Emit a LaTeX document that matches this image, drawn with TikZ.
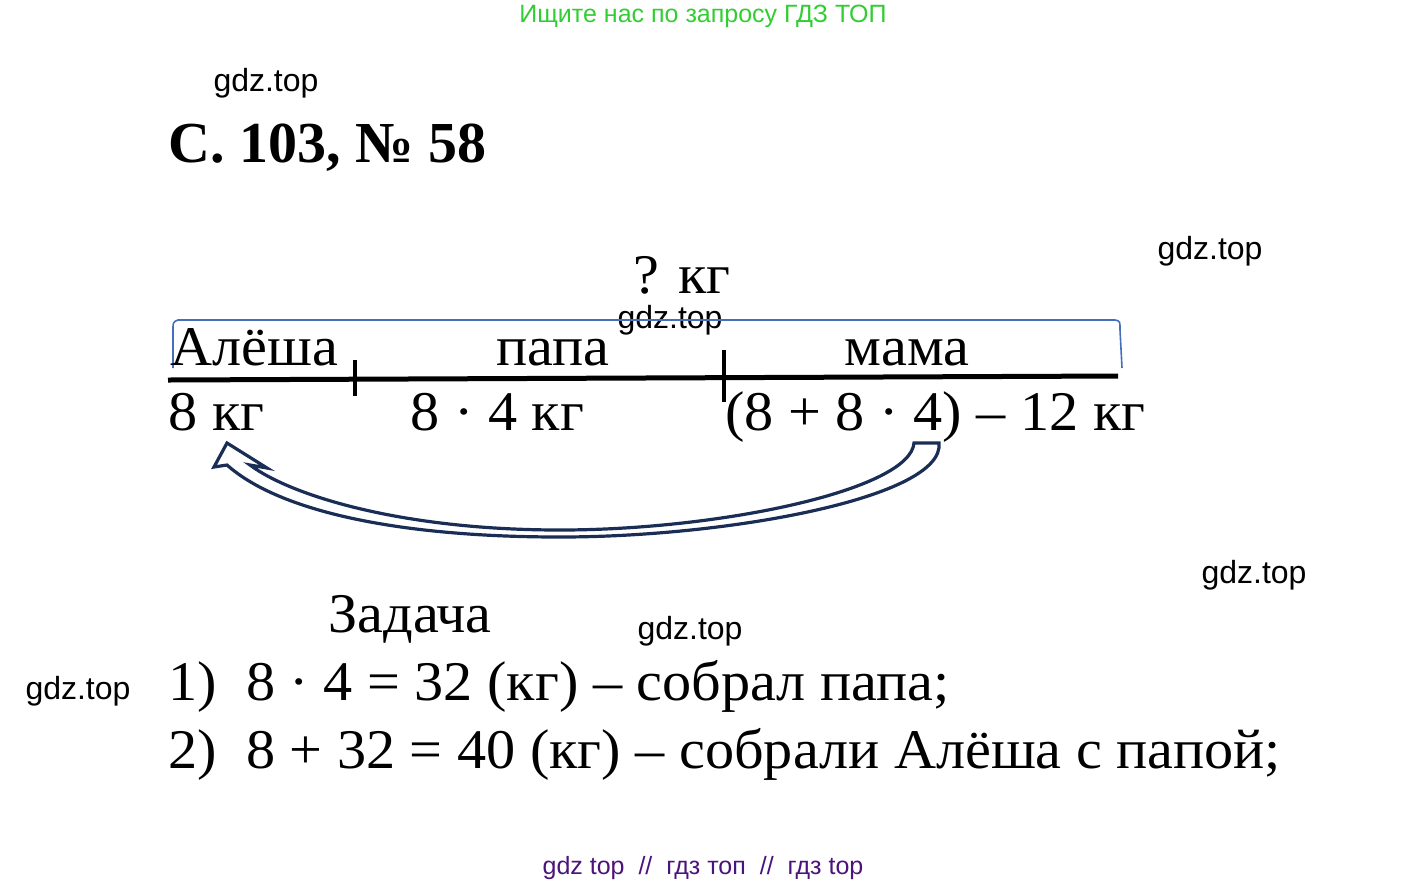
\documentclass[tikz,border=0pt]{standalone}
\usepackage{fontspec}
\setmainfont{Liberation Serif}
\newfontfamily\wmfont{Liberation Sans}
\newfontfamily\bigfont[FakeStretch=1.04]{Liberation Serif}
\definecolor{adgreen}{RGB}{50,205,50}
\definecolor{adpurple}{RGB}{75,20,125}
\definecolor{bracketblue}{RGB}{70,110,185}
\definecolor{arrownavy}{RGB}{25,45,85}
\tikzset{
  wm/.style={font=\wmfont\fontsize{16}{18}\selectfont, text=black, inner sep=0pt},
  big/.style={font=\bigfont\fontsize{28}{31}\selectfont, inner sep=0pt},
  axis/.style={line width=2.5pt},
  tick/.style={line width=2pt},
}
\begin{document}
\begin{tikzpicture}[x=0.5pt, y=-0.5pt]
\useasboundingbox (0,0) rectangle (1407,885);

\node[font=\wmfont\fontsize{12.5}{14}\selectfont, text=adgreen, anchor=base, inner sep=0pt] (ad top) at (703,22) {Ищите нас по запросу ГДЗ ТОП};

\foreach \x/\y [count=\i] in {266/83, 1210/251, 670/320, 1254/575, 690/631, 78/691} {
  \node[wm] (gdz \i) at (\x,\y) {gdz.top};
}

\node[font=\bfseries\fontsize{29}{32}\selectfont, anchor=base west, inner sep=0pt] (title) at (168,162) {С. 103, № 58};

% bracket above the line
\draw[bracketblue, line width=0.8pt] (173,368) -- (173,330) .. controls (173,322) .. (178,320) -- (1115,320) .. controls (1120,321) .. (1120,330) -- (1122,368);
\node[big, anchor=base] (total) at (682,293) {? кг};

% the line and its ticks
\coordinate (line start) at (168,380);
\coordinate (line end) at (1118,376);
\draw[axis] (line start) -- (line end);
\foreach \x/\a/\b [count=\i] in {355/360/396, 724/350/402} {
  \coordinate (tick top \i) at (\x,\a);
  \coordinate (tick bottom \i) at (\x,\b);
  \draw[tick] (tick top \i) -- (tick bottom \i);
}

\node[big, anchor=base west] (alesha) at (170,365) {Алёша};
\node[big, anchor=base] (papa) at (553,365) {папа};
\node[big, anchor=base] (mama) at (907,365) {мама};
\node[big, anchor=base west] (alesha kg) at (168,430) {8 кг};
\node[big, anchor=base west] (papa kg) at (410,430) {8 · 4 кг};
\node[big, anchor=base west] (mama kg) at (725,430) {(8 + 8 · 4) – 12 кг};

% hollow arrow from mama to Alesha
\draw[arrownavy, line width=1.6pt, line join=miter]
  (914,443) .. controls (910,490) and (720,530) .. (560,530)
  .. controls (400,530) and (290,495) .. (250,465)
  -- (267,468) -- (227,443) -- (214,467) -- (227,465)
  .. controls (280,512) and (400,537) .. (560,537)
  .. controls (730,537) and (945,497) .. (939,443) -- cycle;

\node[big, anchor=base west] (task) at (328,632) {Задача};
\node[big, anchor=base west] (step one) at (168,700) {1)\ \ 8 · 4 = 32 (кг) – собрал папа;};
\node[big, anchor=base west] (step two) at (168,768) {2)\ \ 8 + 32 = 40 (кг) – собрали Алёша с папой;};

\node[font=\wmfont\fontsize{12.5}{14}\selectfont, text=adpurple, anchor=base, inner sep=0pt] (ad bottom) at (703,874) {gdz top\ \ //\ \ гдз топ\ \ //\ \ гдз top};
\end{tikzpicture}
\end{document}
